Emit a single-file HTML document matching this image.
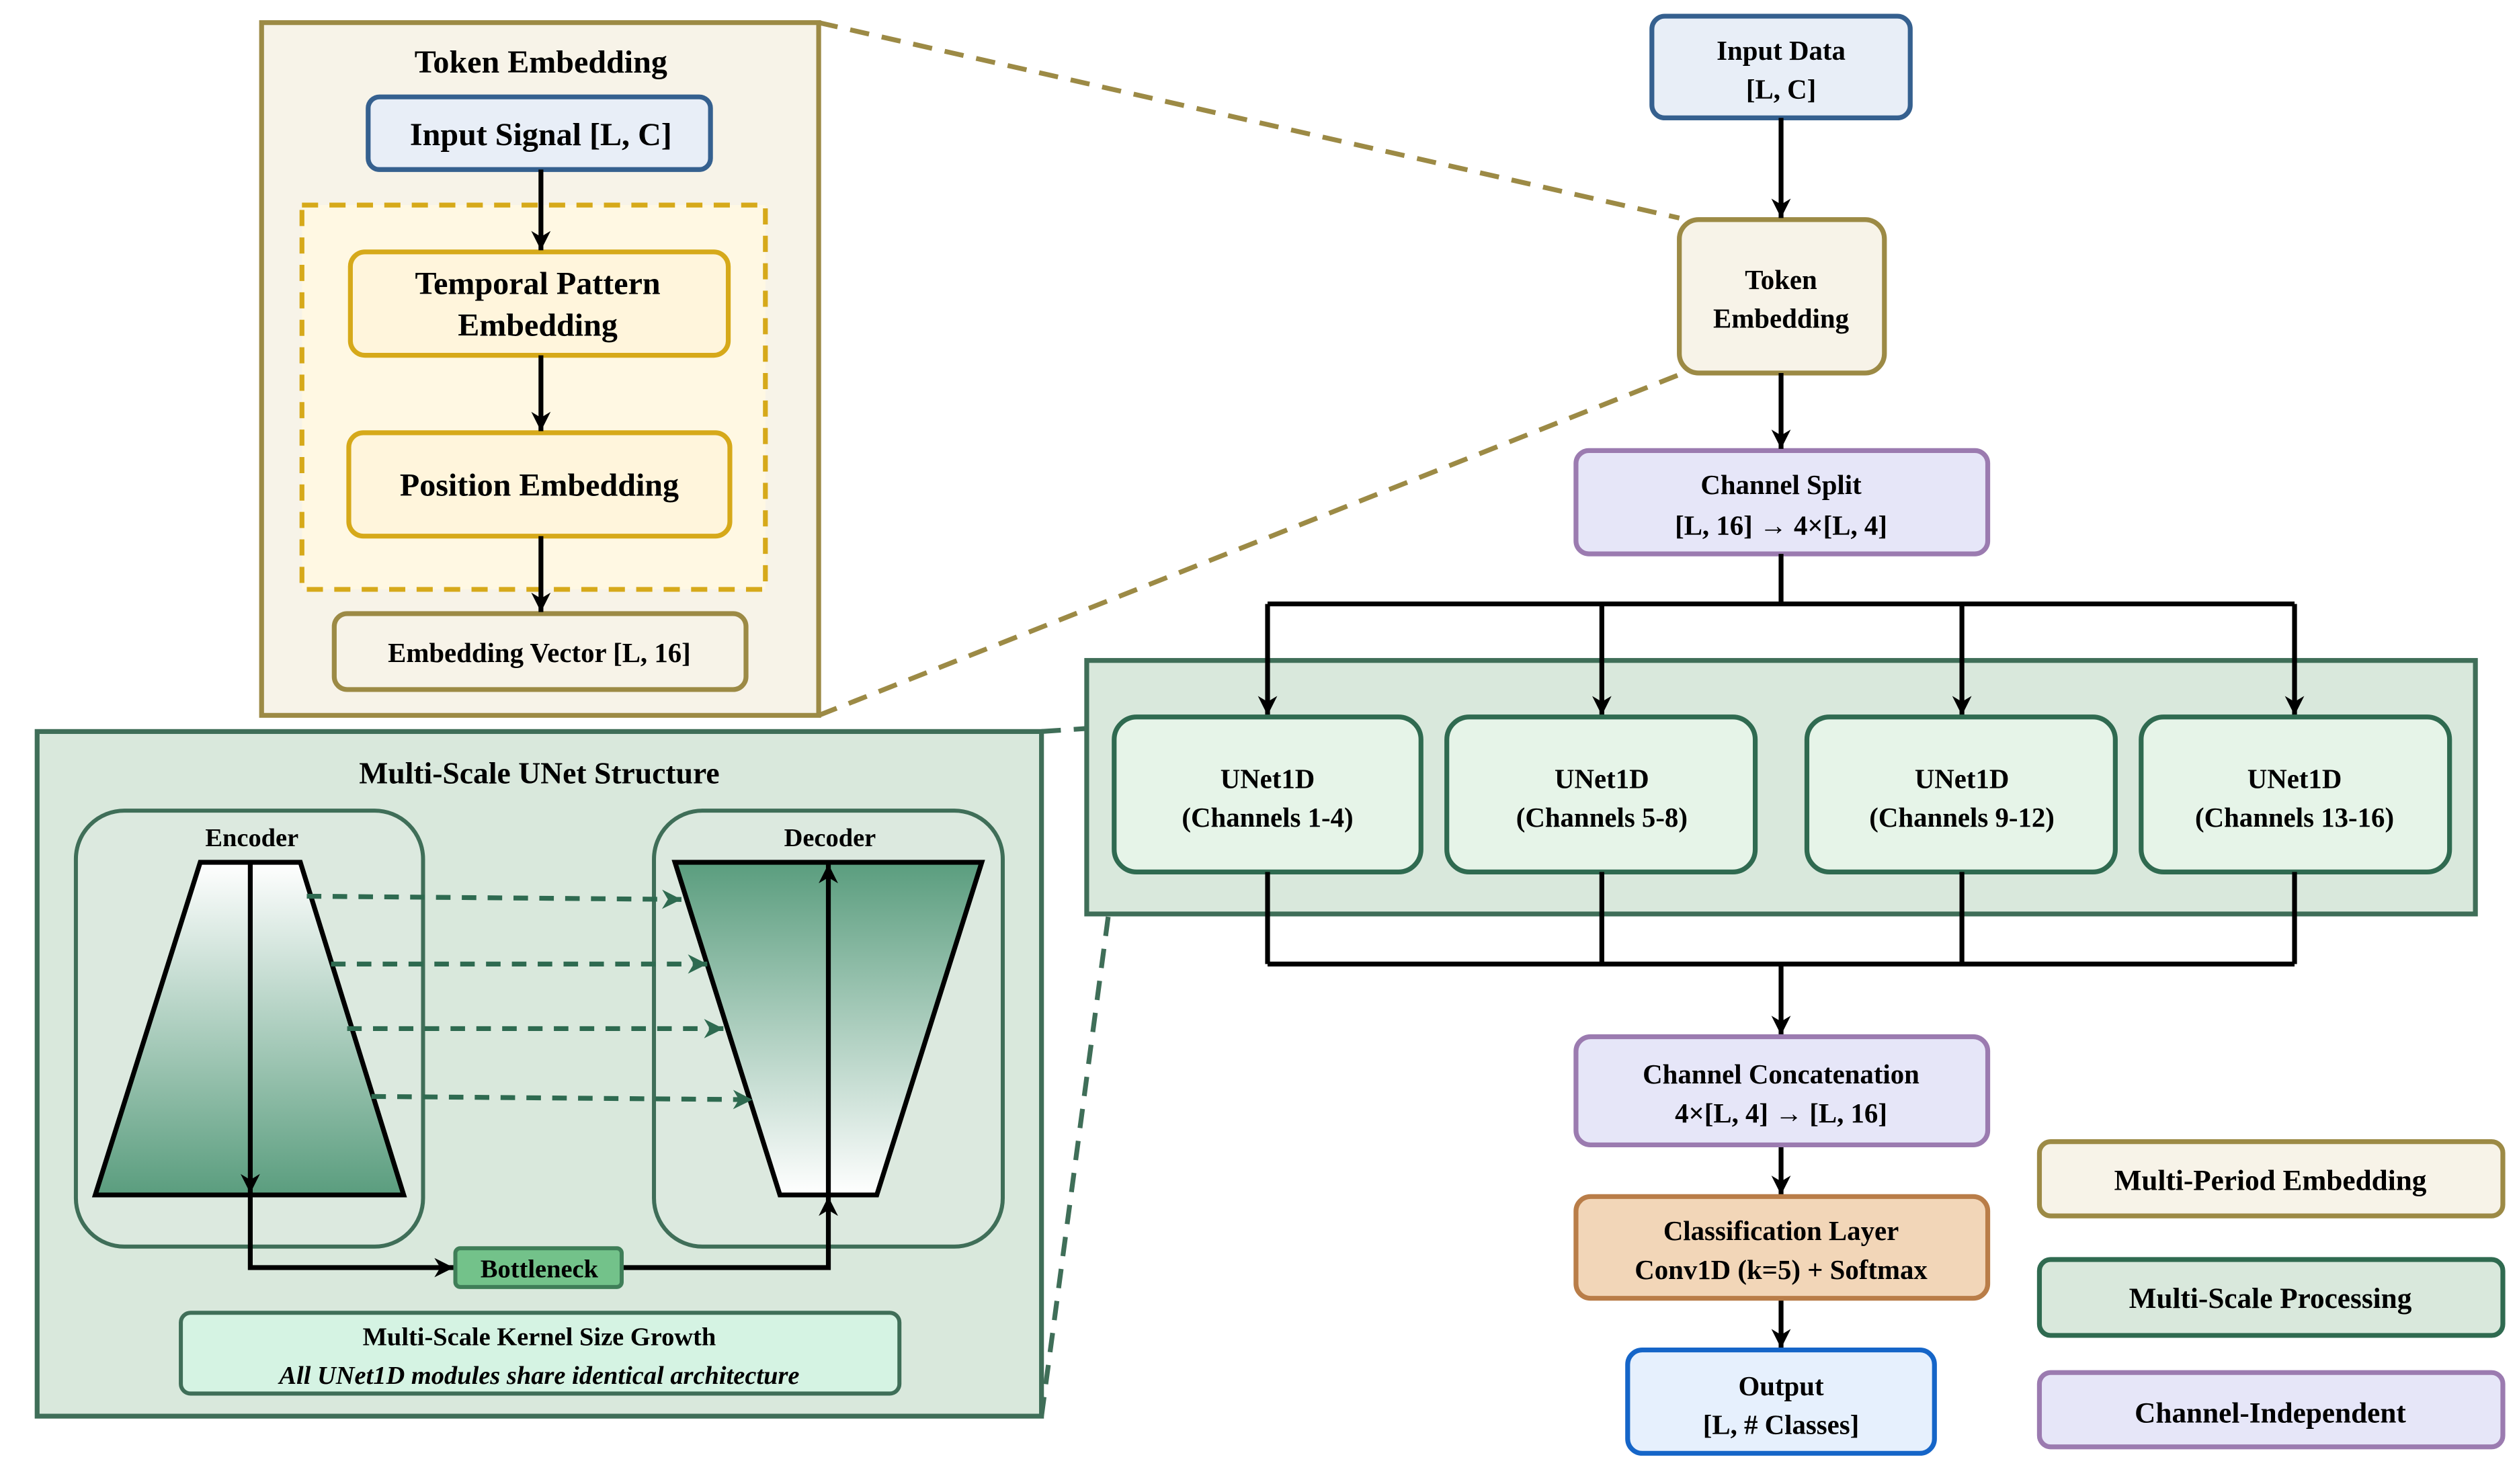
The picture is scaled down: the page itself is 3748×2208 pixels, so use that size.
<!DOCTYPE html>
<html><head><meta charset="utf-8"><style>html,body{margin:0;padding:0;background:#fff}svg{display:block}text{font-family:"Liberation Serif",serif;font-weight:bold;fill:#000;text-anchor:middle}</style></head>
<body>
<svg width="3748" height="2208" viewBox="0 0 1560 919" xmlns="http://www.w3.org/2000/svg">
<defs>
<marker id="a" viewBox="0 0 10 10" refX="10" refY="5" markerWidth="12" markerHeight="12" markerUnits="userSpaceOnUse" orient="auto"><path d="M0,0 L10,5 L0,10 L3,5 z" fill="#000"/></marker>
<marker id="g" viewBox="0 0 10 10" refX="10" refY="5" markerWidth="12" markerHeight="12" markerUnits="userSpaceOnUse" orient="auto"><path d="M0,0 L10,5 L0,10 L3,5 z" fill="#2e6a50"/></marker>
<linearGradient id="enc" x1="0" y1="0" x2="0" y2="1"><stop offset="0" stop-color="#ffffff"/><stop offset="1" stop-color="#5a9d7e"/></linearGradient>
<linearGradient id="dec" x1="0" y1="0" x2="0" y2="1"><stop offset="0" stop-color="#5a9d7e"/><stop offset="1" stop-color="#ffffff"/></linearGradient>
</defs>
<g stroke="#9c8a45" stroke-width="3" stroke-dasharray="12,8" fill="none">
<line x1="507" y1="14" x2="1040" y2="135"/><line x1="507" y1="443" x2="1040" y2="232"/></g>
<g stroke="#3f6e58" stroke-width="3" stroke-dasharray="12,8" fill="none">
<line x1="645" y1="453" x2="690" y2="450"/><line x1="645" y1="877" x2="690" y2="540"/></g>

<rect x="162" y="14" width="345" height="429" fill="#f7f3e8" stroke="#9c8a45" stroke-width="3"/>
<text x="335" y="45" font-size="20">Token Embedding</text>
<rect x="228" y="60" width="212" height="45" rx="7" fill="#e8eef7" stroke="#35608f" stroke-width="3"/>
<text x="335" y="90" font-size="20">Input Signal [L, C]</text>
<rect x="187" y="127" width="287" height="238" fill="#fff8e3" stroke="#d6a91a" stroke-width="3" stroke-dasharray="10,7"/>
<rect x="217" y="156" width="234" height="64" rx="9" fill="#fff5dc" stroke="#d6a91a" stroke-width="3"/>
<text x="333" y="182" font-size="20">Temporal Pattern</text><text x="333" y="208" font-size="20">Embedding</text>
<rect x="216" y="268" width="236" height="64" rx="9" fill="#fff5dc" stroke="#d6a91a" stroke-width="3"/>
<text x="334" y="307" font-size="20">Position Embedding</text>
<rect x="207" y="380" width="255" height="47" rx="8" fill="#f7f3e8" stroke="#9c8a45" stroke-width="3"/>
<text x="334" y="410" font-size="17">Embedding Vector [L, 16]</text>
<g stroke="#000" stroke-width="3" marker-end="url(#a)"><line x1="335" y1="105" x2="335" y2="155"/><line x1="335" y1="220" x2="335" y2="267"/><line x1="335" y1="332" x2="335" y2="379"/></g>

<rect x="23" y="453" width="622" height="424" fill="#d9e8dc" stroke="#3f6e58" stroke-width="3"/>
<text x="334" y="485" font-size="19">Multi-Scale UNet Structure</text>
<rect x="47" y="502" width="215" height="270" rx="30" fill="#dce9df" stroke="#3f6e58" stroke-width="2.5"/>
<rect x="405" y="502" width="216" height="270" rx="30" fill="#dce9df" stroke="#3f6e58" stroke-width="2.5"/>
<text x="156" y="524" font-size="16">Encoder</text><text x="514" y="524" font-size="16">Decoder</text>
<polygon points="124,534 186,534 250,740 59,740" fill="url(#enc)" stroke="#000" stroke-width="3"/>
<polygon points="418,534 608,534 543,740 483,740" fill="url(#dec)" stroke="#000" stroke-width="3"/>
<g stroke="#2e6a50" stroke-width="3" stroke-dasharray="9,7" marker-end="url(#g)">
<line x1="190" y1="555" x2="422" y2="557"/><line x1="205" y1="597" x2="438" y2="597"/><line x1="215" y1="637" x2="448" y2="637"/><line x1="230" y1="679" x2="466" y2="681"/></g>
<g stroke="#000" stroke-width="3" fill="none">
<line x1="155" y1="534" x2="155" y2="739" marker-end="url(#a)"/>
<line x1="513" y1="740" x2="513" y2="535" marker-end="url(#a)"/>
<polyline points="155,740 155,785 281,785" marker-end="url(#a)"/>
<polyline points="385,785 513,785 513,741" marker-end="url(#a)"/></g>
<rect x="282" y="773" width="103" height="24" rx="3" fill="#73c28a" stroke="#3f7e58" stroke-width="2.5"/>
<text x="334" y="791" font-size="16">Bottleneck</text>
<rect x="112" y="813" width="445" height="50" rx="6" fill="#d5f3e3" stroke="#3f6e58" stroke-width="2.5"/>
<text x="334" y="833" font-size="16">Multi-Scale Kernel Size Growth</text>
<text x="334" y="857" font-size="16" font-style="italic">All UNet1D modules share identical architecture</text>

<rect x="1023" y="10" width="160" height="63" rx="8" fill="#e8eef7" stroke="#35608f" stroke-width="3"/>
<text x="1103" y="37" font-size="17">Input Data</text><text x="1103" y="61" font-size="17">[L, C]</text>
<rect x="1040" y="136" width="127" height="95" rx="12" fill="#f7f3e8" stroke="#9c8a45" stroke-width="3"/>
<text x="1103" y="179" font-size="17">Token</text><text x="1103" y="203" font-size="17">Embedding</text>
<rect x="976" y="279" width="255" height="64" rx="8" fill="#e6e6f8" stroke="#9b7bb0" stroke-width="3"/>
<text x="1103" y="306" font-size="17">Channel Split</text><text x="1103" y="331" font-size="17">[L, 16] → 4×[L, 4]</text>
<g stroke="#000" stroke-width="3" fill="none">
<line x1="1103" y1="73" x2="1103" y2="135" marker-end="url(#a)"/>
<line x1="1103" y1="231" x2="1103" y2="278" marker-end="url(#a)"/>
<line x1="1103" y1="343" x2="1103" y2="374"/>
<line x1="785" y1="374" x2="1421" y2="374"/></g>
<rect x="673" y="409" width="860" height="157" fill="#d9e8dc" stroke="#3f6e58" stroke-width="3"/>
<g stroke="#000" stroke-width="3" fill="none" marker-end="url(#a)">
<line x1="785" y1="374" x2="785" y2="443"/><line x1="992" y1="374" x2="992" y2="443"/><line x1="1215" y1="374" x2="1215" y2="443"/><line x1="1421" y1="374" x2="1421" y2="443"/></g>
<g fill="#e6f4e8" stroke="#2f6a50" stroke-width="3">
<rect x="690" y="444" width="190" height="96" rx="14"/><rect x="896" y="444" width="191" height="96" rx="14"/><rect x="1119" y="444" width="191" height="96" rx="14"/><rect x="1326" y="444" width="191" height="96" rx="14"/></g>
<g font-size="17"><text x="785" y="488">UNet1D</text><text x="785" y="512">(Channels 1-4)</text>
<text x="992" y="488">UNet1D</text><text x="992" y="512">(Channels 5-8)</text>
<text x="1215" y="488">UNet1D</text><text x="1215" y="512">(Channels 9-12)</text>
<text x="1421" y="488">UNet1D</text><text x="1421" y="512">(Channels 13-16)</text></g>
<g stroke="#000" stroke-width="3" fill="none">
<line x1="785" y1="540" x2="785" y2="597"/><line x1="992" y1="540" x2="992" y2="597"/><line x1="1215" y1="540" x2="1215" y2="597"/><line x1="1421" y1="540" x2="1421" y2="597"/>
<line x1="785" y1="597" x2="1421" y2="597"/>
<line x1="1103" y1="597" x2="1103" y2="641" marker-end="url(#a)"/>
<line x1="1103" y1="709" x2="1103" y2="740" marker-end="url(#a)"/>
<line x1="1103" y1="804" x2="1103" y2="835" marker-end="url(#a)"/></g>
<rect x="976" y="642" width="255" height="67" rx="9" fill="#e6e6f8" stroke="#9b7bb0" stroke-width="3"/>
<text x="1103" y="671" font-size="17">Channel Concatenation</text><text x="1103" y="695" font-size="17">4×[L, 4] → [L, 16]</text>
<rect x="976" y="741" width="255" height="63" rx="9" fill="#f2d6b8" stroke="#b97d48" stroke-width="3"/>
<text x="1103" y="768" font-size="17">Classification Layer</text><text x="1103" y="792" font-size="17">Conv1D (k=5) + Softmax</text>
<rect x="1008" y="836" width="190" height="64" rx="9" fill="#e6f0fd" stroke="#1565c8" stroke-width="3"/>
<text x="1103" y="864" font-size="17">Output</text><text x="1103" y="888" font-size="17">[L, # Classes]</text>

<rect x="1263" y="707" width="287" height="46" rx="7" fill="#f7f3e8" stroke="#9c8a45" stroke-width="3"/>
<text x="1406" y="737" font-size="18">Multi-Period Embedding</text>
<rect x="1263" y="780" width="287" height="47" rx="7" fill="#d9e8dc" stroke="#2f6a50" stroke-width="3"/>
<text x="1406" y="810" font-size="18">Multi-Scale Processing</text>
<rect x="1263" y="850" width="287" height="46" rx="7" fill="#e6e6f8" stroke="#9b7bb0" stroke-width="3"/>
<text x="1406" y="881" font-size="18">Channel-Independent</text>
</svg>
</body></html>
